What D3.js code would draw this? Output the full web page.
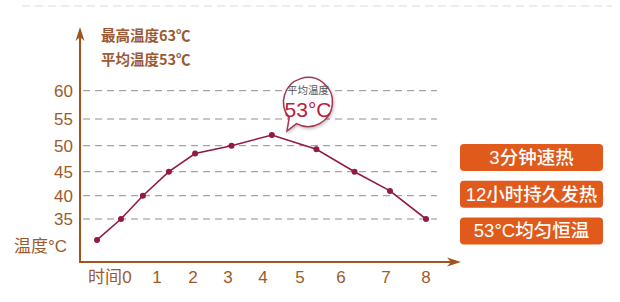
<!DOCTYPE html>
<html>
<head>
<meta charset="utf-8">
<script src="https://cdn.jsdelivr.net/npm/d3@7"></script>
<style>
  body { margin: 0; background: #fff; }
  text { font-family: "Liberation Sans", Arial, "Noto Sans CJK SC", sans-serif; }
</style>
</head>
<body>
<div id="chart"></div>
<script>
// chart data
const hours = [0, 1, 2, 3, 4, 5, 6, 7, 8];
const tempTicks = [35, 40, 45, 50, 55, 60];
const sampleTimes = [-1.0, -0.2, 0.53, 1.33, 2.06, 3.1, 4.24, 5.4, 6.3, 7.1, 8];
const sampleTemps = [30.5, 35, 40, 45, 48.5, 50, 52, 49.3, 45, 41, 35];
const headerNotes = ["最高温度63℃", "平均温度53℃"];
const features = ["3分钟速热", "12小时持久发热", "53°C均匀恒温"];

const width = 620, height = 302;
const axisColor = "#a3531c", labelColor = "#9b5a2c", lineColor = "#931a40";

const svg = d3.select("#chart").append("svg")
    .attr("width", width)
    .attr("height", height);

// soft shadow for the callout
const defs = svg.append("defs");
const shadow = defs.append("filter").attr("id", "soft")
    .attr("x", "-30%").attr("y", "-30%").attr("width", "160%").attr("height", "160%");
shadow.append("feDropShadow")
    .attr("dx", 1).attr("dy", 1.5).attr("stdDeviation", 1.5)
    .attr("flood-color", "#000").attr("flood-opacity", 0.25);

// faint dashed rule at the top
svg.append("line")
    .attr("x1", 22).attr("x2", 612).attr("y1", 6).attr("y2", 6)
    .attr("stroke", "#efede6").attr("stroke-width", 2)
    .attr("stroke-dasharray", "8,5");

// scales (the artwork spacing is uneven, so piecewise ranges)
let x = d3.scaleLinear()
    .domain(hours)
    .range([127, 157, 193, 228, 263, 300, 341, 386, 426]);

let y = d3.scaleLinear()
    .domain(tempTicks)
    .range([219, 195.7, 171.7, 145.7, 119, 90.7]);

const originX = 80, originY = 262;

// dashed grid
svg.append("g").selectAll("line")
    .data(tempTicks)
    .enter().append("line")
    .attr("x1", 83).attr("x2", 437)
    .attr("y1", d => y(d)).attr("y2", d => y(d))
    .attr("stroke", "#948c86").attr("stroke-width", 1)
    .attr("stroke-dasharray", "7,5");

// y tick labels
svg.append("g").selectAll("text")
    .data(tempTicks)
    .enter().append("text")
    .attr("x", 73).attr("y", d => y(d) + 6)
    .attr("text-anchor", "end")
    .attr("font-size", 17)
    .attr("fill", labelColor)
    .text(d => d);

// x tick labels
svg.append("g").selectAll("text")
    .data(hours)
    .enter().append("text")
    .attr("x", d => x(d)).attr("y", 283)
    .attr("text-anchor", "middle")
    .attr("font-size", 17)
    .attr("fill", labelColor)
    .text(d => d);

svg.append("text")
    .attr("x", x(0) - 5).attr("y", 283)
    .attr("text-anchor", "end")
    .attr("font-size", 17)
    .attr("fill", labelColor)
    .text("时间");

// y unit label
svg.append("text")
    .attr("x", 14).attr("y", 252)
    .attr("font-size", 17)
    .attr("fill", labelColor)
    .text("温度°C");

// axes with arrows
svg.append("line")
    .attr("x1", originX).attr("x2", originX)
    .attr("y1", originY + 1).attr("y2", 34)
    .attr("stroke", axisColor).attr("stroke-width", 2);
svg.append("line")
    .attr("x1", originX - 1).attr("x2", 454)
    .attr("y1", originY).attr("y2", originY)
    .attr("stroke", axisColor).attr("stroke-width", 2);

svg.append("path")
    .attr("d", `M${originX},27 L${originX + 4.5},41 L${originX},37 L${originX - 4.5},41 Z`)
    .attr("fill", axisColor);
svg.append("path")
    .attr("d", `M461,${originY} L447,${originY - 4.5} L451,${originY} L447,${originY + 4.5} Z`)
    .attr("fill", axisColor);

// header notes
svg.append("g").selectAll("text")
    .data(headerNotes)
    .enter().append("text")
    .attr("x", 101).attr("y", (d, i) => 41 + i * 24)
    .attr("font-size", 14.5)
    .attr("font-weight", "bold")
    .attr("fill", "#9a5a36")
    .style("font-family", "'Noto Sans CJK SC', serif")
    .text(d => d);

// temperature line
const points = sampleTimes.map((t, i) => [t, sampleTemps[i]]);

let line = d3.line()
    .x(d => x(d[0]))
    .y(d => y(d[1]));

svg.append("path")
    .datum(points)
    .attr("d", line)
    .attr("fill", "none")
    .attr("stroke", lineColor)
    .attr("stroke-width", 1.6);

svg.append("g").selectAll("circle")
    .data(points)
    .enter().append("circle")
    .attr("cx", d => x(d[0]))
    .attr("cy", d => y(d[1]))
    .attr("r", 3)
    .attr("fill", lineColor);

// callout bubble
const bx = 308, by = 102, br = 24.5;
const a1 = 118 * Math.PI / 180, a2 = 140 * Math.PI / 180;
const bubble = svg.append("g");
bubble.append("path")
    .attr("d", `M${bx + br * Math.cos(a1)},${by + br * Math.sin(a1)}
        L287,131
        L${bx + br * Math.cos(a2)},${by + br * Math.sin(a2)}
        A${br},${br} 0 1 1 ${bx + br * Math.cos(a1)},${by + br * Math.sin(a1)} Z`)
    .attr("fill", "#fff")
    .attr("stroke", "#a3344f")
    .attr("stroke-width", 1.5)
    .attr("filter", "url(#soft)");
bubble.append("text")
    .attr("x", bx).attr("y", 94)
    .attr("text-anchor", "middle")
    .attr("font-size", 10.5)
    .attr("fill", "#555")
    .text("平均温度");
bubble.append("text")
    .attr("x", bx).attr("y", 117)
    .attr("text-anchor", "middle")
    .attr("font-size", 21)
    .attr("fill", "#b8213c")
    .text("53°C");

// feature badges
const badges = svg.append("g").selectAll("g")
    .data(features)
    .enter().append("g")
    .attr("transform", (d, i) => `translate(460, ${144 + i * 36.7})`);

badges.append("rect")
    .attr("width", 143).attr("height", 27)
    .attr("rx", 4)
    .attr("fill", "#e05a1c");

badges.append("text")
    .attr("x", 71.5).attr("y", 20)
    .attr("text-anchor", "middle")
    .attr("font-size", 18.5)
    .attr("font-weight", 500)
    .attr("fill", "#fff")
    .text(d => d);
</script>
</body>
</html>
